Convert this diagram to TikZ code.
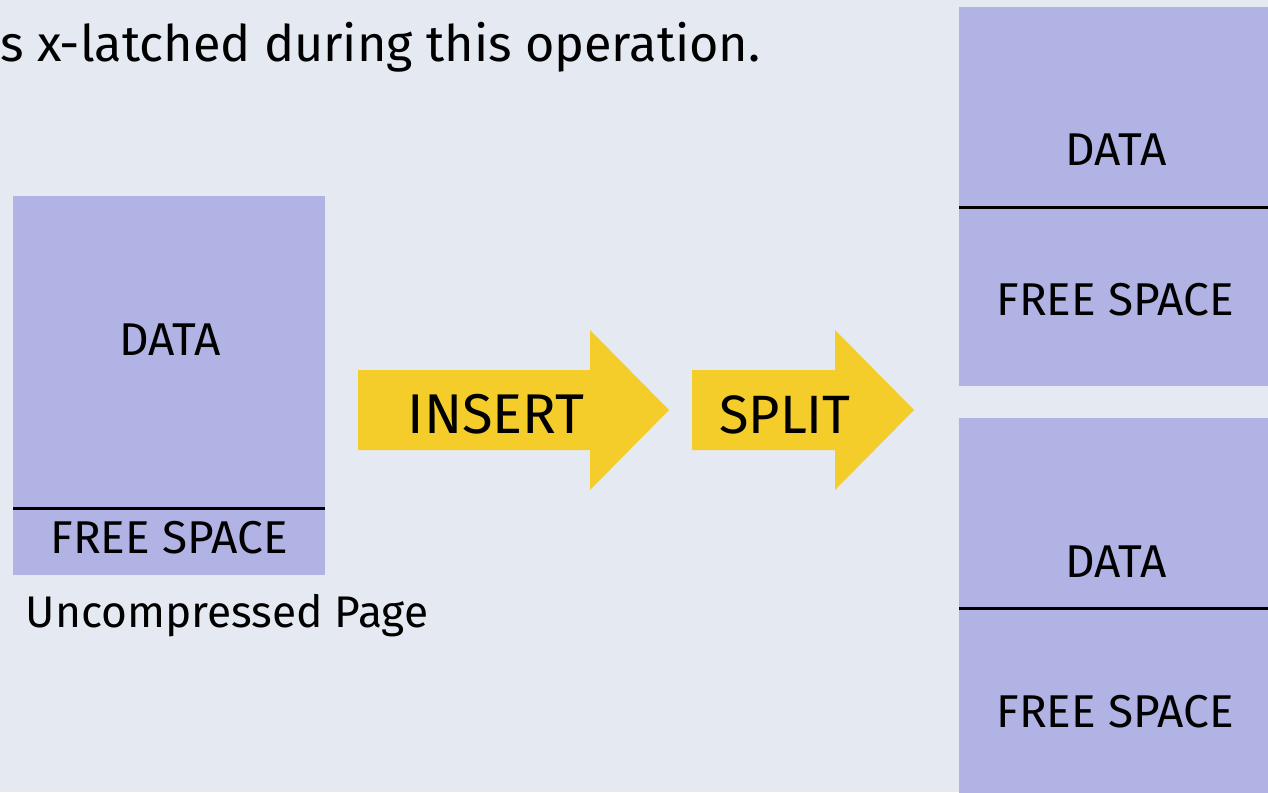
\documentclass[tikz,border=0pt]{standalone}
\usepackage{fontspec}
\setmainfont{Fira Sans}
\definecolor{bgcol}{HTML}{E5E9F1}
\definecolor{pagecol}{HTML}{B2B3E5}
\definecolor{arrowcol}{HTML}{F4CD2A}
\tikzset{
  part/.style={fill=pagecol, draw=none, anchor=north west, inner sep=0pt,
               minimum width=312pt},
  divider/.style={line width=3pt, black},
  lbl/.style={anchor=base, inner sep=0pt, font=\fontsize{46}{50}\selectfont},
  oplbl/.style={anchor=base, inner sep=0pt, font=\fontsize{56}{60}\selectfont},
  flow/.style={fill=arrowcol, draw=none},
}
\begin{document}
\begin{tikzpicture}[x=1pt,y=-1pt]
  \fill[bgcol] (0,0) rectangle (1268,792);
  \useasboundingbox (0,0) rectangle (1268,792);

  % caption line at the top
  \node[anchor=base west, inner sep=0pt, font=\fontsize{50.4}{56}\selectfont] (title) at (0,62)
    {s x-latched during this operation.};

  % uncompressed page
  \node[part, minimum height=312pt] (ldata) at (13,196) {};
  \node[part, minimum height=67pt]  (lfree) at (13,508) {};
  \draw[divider] (ldata.south west) -- (ldata.south east);
  \node[lbl] (ldatat) at (170,355) {DATA};
  \node[lbl] (lfreet) at (169,553) {FREE SPACE};
  \node[lbl, font=\fontsize{44.3}{50}\selectfont] (lcap) at (227,627) {Uncompressed Page};

  % operation arrows
  \coordinate (ia) at (358,370);
  \fill[flow] (ia) -- (590,370) -- (590,330) -- (669,410) -- (590,490) -- (590,450) -- (358,450) -- cycle;
  \node[oplbl] (ins) at (496,433) {INSERT};
  \coordinate (sa) at (692,370);
  \fill[flow] (sa) -- (835,370) -- (835,330) -- (914,410) -- (835,490) -- (835,450) -- (692,450) -- cycle;
  \node[oplbl, font=\fontsize{54}{60}\selectfont] (spl) at (785,433) {SPLIT};

  % resulting pages after the split
  \node[part, minimum height=200pt] (adata) at (959,7) {};
  \node[part, minimum height=179pt] (afree) at (959,207) {};
  \draw[divider] (adata.south west) -- (adata.south east);
  \node[lbl] (adatat) at (1116,165) {DATA};
  \node[lbl] (afreet) at (1115,315) {FREE SPACE};

  \node[part, minimum height=190pt] (bdata) at (959,418) {};
  \node[part, minimum height=190pt] (bfree) at (959,608) {};
  \draw[divider] (bdata.south west) -- (bdata.south east);
  \node[lbl] (bdatat) at (1116,577) {DATA};
  \node[lbl] (bfreet) at (1115,727) {FREE SPACE};
\end{tikzpicture}
\end{document}
